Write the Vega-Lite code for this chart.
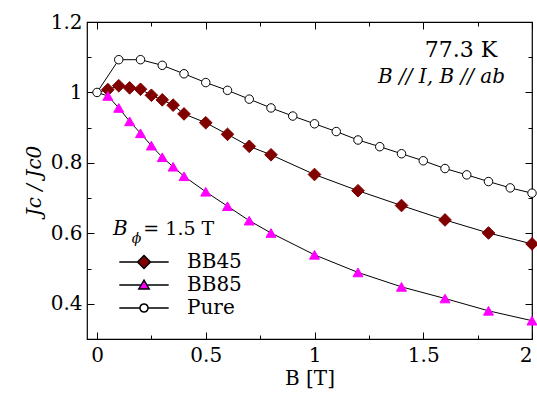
{
  "$schema": "https://vega.github.io/schema/vega-lite/v6.json",
  "width": 445,
  "height": 317,
  "autosize": "none",
  "padding": {"left": 87, "top": 22, "right": 5, "bottom": 64},
  "background": "white",
  "config": {
    "font": "DejaVu Serif",
    "view": {"stroke": "black", "strokeWidth": 1.2},
    "text": {"font": "DejaVu Serif"},
    "axis": {"labelFont": "DejaVu Serif", "titleFont": "DejaVu Serif", "labelColor": "black", "titleColor": "black", "tickColor": "black", "domain": false, "grid": false, "titleFontWeight": "normal"},
    "legend": {"labelFont": "DejaVu Serif", "labelFontSize": 20, "labelColor": "black"}
  },
  "data": {"values": [
    {"series": "BB45", "B": 0, "J": 1.0},
    {"series": "BB45", "B": 0.05, "J": 1.008},
    {"series": "BB45", "B": 0.1, "J": 1.019},
    {"series": "BB45", "B": 0.15, "J": 1.013},
    {"series": "BB45", "B": 0.2, "J": 1.009},
    {"series": "BB45", "B": 0.25, "J": 0.992},
    {"series": "BB45", "B": 0.3, "J": 0.979},
    {"series": "BB45", "B": 0.35, "J": 0.964},
    {"series": "BB45", "B": 0.4, "J": 0.939},
    {"series": "BB45", "B": 0.5, "J": 0.914},
    {"series": "BB45", "B": 0.6, "J": 0.881},
    {"series": "BB45", "B": 0.7, "J": 0.847},
    {"series": "BB45", "B": 0.8, "J": 0.823},
    {"series": "BB45", "B": 1.0, "J": 0.767},
    {"series": "BB45", "B": 1.2, "J": 0.721},
    {"series": "BB45", "B": 1.4, "J": 0.679},
    {"series": "BB45", "B": 1.6, "J": 0.638},
    {"series": "BB45", "B": 1.8, "J": 0.601},
    {"series": "BB45", "B": 2.0, "J": 0.570},
    {"series": "BB85", "B": 0, "J": 1.0},
    {"series": "BB85", "B": 0.05, "J": 0.99},
    {"series": "BB85", "B": 0.1, "J": 0.956},
    {"series": "BB85", "B": 0.15, "J": 0.918},
    {"series": "BB85", "B": 0.2, "J": 0.884},
    {"series": "BB85", "B": 0.25, "J": 0.849},
    {"series": "BB85", "B": 0.3, "J": 0.816},
    {"series": "BB85", "B": 0.35, "J": 0.789},
    {"series": "BB85", "B": 0.4, "J": 0.762},
    {"series": "BB85", "B": 0.5, "J": 0.718},
    {"series": "BB85", "B": 0.6, "J": 0.677},
    {"series": "BB85", "B": 0.7, "J": 0.636},
    {"series": "BB85", "B": 0.8, "J": 0.601},
    {"series": "BB85", "B": 1.0, "J": 0.539},
    {"series": "BB85", "B": 1.2, "J": 0.489},
    {"series": "BB85", "B": 1.4, "J": 0.448},
    {"series": "BB85", "B": 1.6, "J": 0.415},
    {"series": "BB85", "B": 1.8, "J": 0.380},
    {"series": "BB85", "B": 2.0, "J": 0.352},
    {"series": "Pure", "B": 0, "J": 1.0},
    {"series": "Pure", "B": 0.1, "J": 1.093},
    {"series": "Pure", "B": 0.2, "J": 1.093},
    {"series": "Pure", "B": 0.3, "J": 1.077},
    {"series": "Pure", "B": 0.4, "J": 1.053},
    {"series": "Pure", "B": 0.5, "J": 1.028},
    {"series": "Pure", "B": 0.6, "J": 1.006},
    {"series": "Pure", "B": 0.7, "J": 0.981},
    {"series": "Pure", "B": 0.8, "J": 0.956},
    {"series": "Pure", "B": 0.9, "J": 0.933},
    {"series": "Pure", "B": 1.0, "J": 0.911},
    {"series": "Pure", "B": 1.1, "J": 0.889},
    {"series": "Pure", "B": 1.2, "J": 0.865},
    {"series": "Pure", "B": 1.3, "J": 0.846},
    {"series": "Pure", "B": 1.4, "J": 0.826},
    {"series": "Pure", "B": 1.5, "J": 0.806},
    {"series": "Pure", "B": 1.6, "J": 0.784},
    {"series": "Pure", "B": 1.7, "J": 0.766},
    {"series": "Pure", "B": 1.8, "J": 0.747},
    {"series": "Pure", "B": 1.9, "J": 0.729},
    {"series": "Pure", "B": 2.0, "J": 0.714}
  ]},
  "resolve": {"axis": {"x": "independent", "y": "independent"}},
  "layer": [
    {
      "mark": {"type": "line", "color": "black", "strokeWidth": 1},
      "encoding": {
        "x": {"field": "B", "type": "quantitative", "scale": {"domain": [-0.046, 2], "nice": false, "zero": false},
          "axis": {"orient": "bottom", "title": "B [T]", "titleFontSize": 20, "titlePadding": 3, "labelFontSize": 20, "labelPadding": 13,
            "values": [0, 0.5, 1, 1.5, 2], "format": "~g", "tickSize": -7}},
        "y": {"field": "J", "type": "quantitative", "scale": {"domain": [0.3, 1.2], "nice": false, "zero": false},
          "axis": {"orient": "left", "title": "Jc / Jc0", "titleFontSize": 20, "titleFontStyle": "italic", "titlePadding": 6, "labelFontSize": 20, "labelPadding": 12,
            "values": [0.4, 0.6, 0.8, 1.0, 1.2], "format": "~g", "tickSize": -7}},
        "detail": {"field": "series"}
      }
    },
    {
      "mark": {"type": "point", "opacity": 0},
      "encoding": {
        "x": {"field": "B", "type": "quantitative",
          "axis": {"orient": "top", "title": null, "labels": false, "values": [0, 0.5, 1, 1.5, 2], "tickSize": -7}},
        "y": {"field": "J", "type": "quantitative",
          "axis": {"orient": "right", "title": null, "labels": false, "values": [0.4, 0.6, 0.8, 1.0, 1.2], "tickSize": -7}}
      }
    },
    {
      "mark": {"type": "point", "opacity": 0},
      "encoding": {
        "x": {"field": "B", "type": "quantitative",
          "axis": {"orient": "bottom", "title": null, "labels": false, "values": [0.25, 0.75, 1.25, 1.75], "tickSize": -4}},
        "y": {"field": "J", "type": "quantitative",
          "axis": {"orient": "left", "title": null, "labels": false, "values": [0.5, 0.7, 0.9, 1.1], "tickSize": -4}}
      }
    },
    {
      "mark": {"type": "point", "opacity": 0},
      "encoding": {
        "x": {"field": "B", "type": "quantitative",
          "axis": {"orient": "top", "title": null, "labels": false, "values": [0.25, 0.75, 1.25, 1.75], "tickSize": -4}},
        "y": {"field": "J", "type": "quantitative",
          "axis": {"orient": "right", "title": null, "labels": false, "values": [0.5, 0.7, 0.9, 1.1], "tickSize": -4}}
      }
    },
    {
      "transform": [{"filter": "datum.series == 'Pure' || datum.B > 0"}],
      "mark": {"type": "point", "filled": true, "strokeWidth": 1, "opacity": 1},
      "encoding": {
        "x": {"field": "B", "type": "quantitative", "axis": null},
        "y": {"field": "J", "type": "quantitative", "axis": null},
        "shape": {"condition": [{"test": "datum.series == 'BB45'", "value": "diamond"}, {"test": "datum.series == 'BB85'", "value": "triangle-up"}], "value": "circle"},
        "stroke": {"condition": [{"test": "datum.series == 'BB45'", "value": "#800000"}, {"test": "datum.series == 'BB85'", "value": "#ff00ff"}], "value": "#000000"},
        "fill": {"field": "series", "type": "nominal", "scale": {"domain": ["BB45", "BB85", "Pure"], "range": ["#800000", "#ff00ff", "#ffffff"]},
          "legend": {"title": null, "orient": "none", "legendX": 47, "legendY": 230, "rowPadding": 3, "labelOffset": 33, "symbolSize": 169,
            "encode": {"symbols": {"stroke": {"value": "black"}, "strokeWidth": {"value": 1}, "size": {"value": 169}}}}},
        "size": {"condition": [{"test": "datum.series == 'BB45'", "value": 160}, {"test": "datum.series == 'BB85'", "value": 100}], "value": 72}
      }
    },
    {
      "transform": [{"filter": "false"}],
      "mark": {"type": "point", "filled": true, "strokeWidth": 1},
      "encoding": {
        "shape": {"field": "series", "type": "nominal", "scale": {"domain": ["BB45", "BB85", "Pure"],
          "range": ["M-3.8,0H-1M1,0H3.8M0,-1L1,0L0,1L-1,0Z", "M-3.8,0H-0.44M0.44,0H3.8M0,-0.75L0.8,0.6L-0.8,0.6Z", "M-3.8,0H-0.62M0.62,0H3.8M0.62,0A0.62,0.62 0 1 1 -0.62,0A0.62,0.62 0 1 1 0.62,0Z"]},
          "legend": {"title": null, "orient": "none", "legendX": 47, "legendY": 230, "rowPadding": 3, "labelOffset": 33, "symbolSize": 169,
            "encode": {"symbols": {"stroke": {"value": "black"}, "strokeWidth": {"value": 1}, "size": {"value": 169}}}}},
        "fill": {"field": "series", "type": "nominal",
          "legend": {"title": null, "orient": "none", "legendX": 47, "legendY": 230, "rowPadding": 3, "labelOffset": 33, "symbolSize": 169,
            "encode": {"symbols": {"stroke": {"value": "black"}, "strokeWidth": {"value": 1}, "size": {"value": 169}}}}}
      }
    },
    {
      "data": {"values": [{}]},
      "mark": {"type": "text", "text": "77.3 K", "fontSize": 22, "align": "right", "baseline": "alphabetic", "color": "black"},
      "encoding": {"x": {"datum": 1.84, "type": "quantitative", "axis": null}, "y": {"datum": 1.102, "type": "quantitative", "axis": null}}
    },
    {
      "data": {"values": [{}]},
      "mark": {"type": "text", "text": "B // I, B // ab", "fontSize": 20, "fontStyle": "italic", "align": "right", "baseline": "alphabetic", "color": "black"},
      "encoding": {"x": {"datum": 1.876, "type": "quantitative", "axis": null}, "y": {"datum": 1.026, "type": "quantitative", "axis": null}}
    },
    {
      "data": {"values": [{}]},
      "mark": {"type": "text", "text": "B", "fontSize": 20, "fontStyle": "italic", "align": "left", "baseline": "alphabetic", "color": "black"},
      "encoding": {"x": {"datum": 0.074, "type": "quantitative", "axis": null}, "y": {"datum": 0.596, "type": "quantitative", "axis": null}}
    },
    {
      "data": {"values": [{}]},
      "mark": {"type": "text", "text": "ϕ", "fontSize": 14, "fontStyle": "italic", "align": "left", "baseline": "alphabetic", "color": "black"},
      "encoding": {"x": {"datum": 0.16, "type": "quantitative", "axis": null}, "y": {"datum": 0.572, "type": "quantitative", "axis": null}}
    },
    {
      "data": {"values": [{}]},
      "mark": {"type": "text", "text": "= 1.5 T", "fontSize": 19, "align": "left", "baseline": "alphabetic", "color": "black"},
      "encoding": {"x": {"datum": 0.213, "type": "quantitative", "axis": null}, "y": {"datum": 0.596, "type": "quantitative", "axis": null}}
    }
  ]
}
